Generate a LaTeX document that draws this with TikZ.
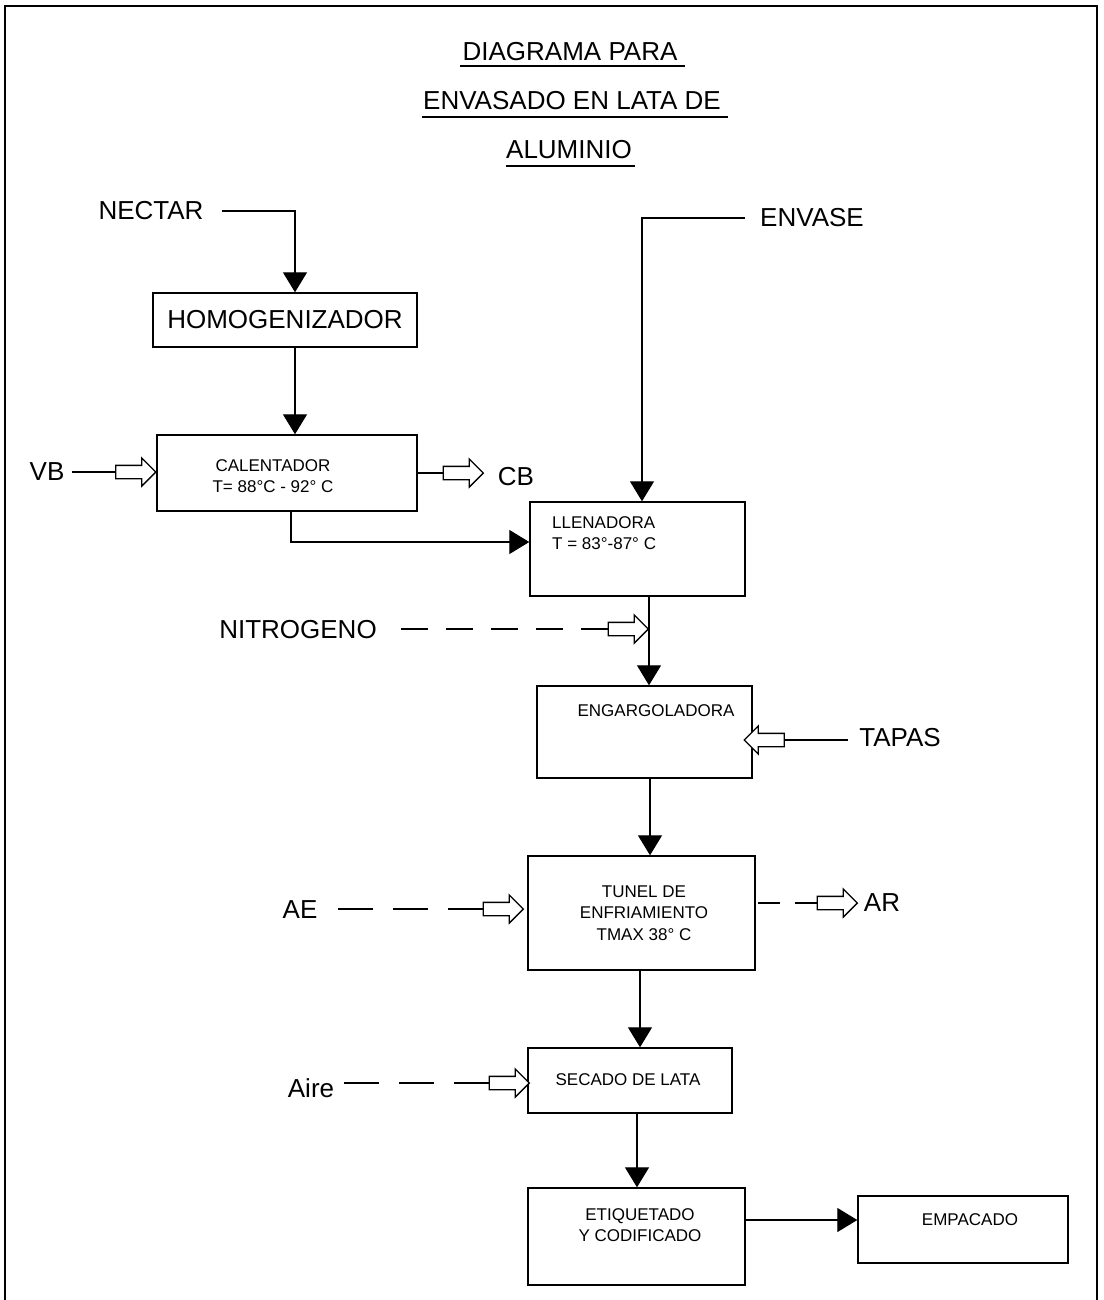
\documentclass[tikz,border=0pt]{standalone}
\usepackage{fontspec}
\setmainfont{Liberation Sans}
\usetikzlibrary{arrows.meta,shapes.arrows}
\begin{document}
\begin{tikzpicture}[x=1pt,y=-1pt,
  box/.style={draw, line width=1.4pt, inner sep=0pt},
  big/.style={inner sep=0pt, font=\fontsize{26}{30}\selectfont},
  small/.style={inner sep=0pt, font=\fontsize{17}{21.5}\selectfont},
  flow/.style={line width=1.3pt},
  tri/.style={flow, -{Triangle[width=24pt,length=20pt]}},
  dashline/.style={flow, dash pattern=on 35pt off 20pt},
  longdash/.style={flow, dash pattern=on 27pt off 18pt},
  shortdash/.style={flow, dash pattern=on 22pt off 15pt},
  blockarr/.style={draw, fill=white, line width=1.3pt, single arrow, inner sep=0pt,
    text height=6pt, text depth=6pt, text width=0pt,
    minimum height=40pt, single arrow head extend=7.5pt}]
\useasboundingbox (0,0) rectangle (1103,1300);

% page frame, open at the bottom
\draw[line width=1.5pt] (5,1300) -- (5,6) -- (1097,6) -- (1097,1300);

% title
\node[big] (t1) at (570,52) {DIAGRAMA PARA};
\node[big] (t2) at (572,101) {ENVASADO EN LATA DE};
\node[big] (t3) at (569,150) {ALUMINIO};
\draw[line width=1.4pt] ([shift={(-2pt,-14pt)}]t1.west) -- ([shift={(7pt,-14pt)}]t1.east);
\draw[line width=1.4pt] ([shift={(-1pt,-16pt)}]t2.west) -- ([shift={(7pt,-16pt)}]t2.east);
\draw[line width=1.4pt] ([shift={(0pt,-16pt)}]t3.west) -- ([shift={(3pt,-16pt)}]t3.east);

% process boxes
\node[box, big, minimum width=264pt, minimum height=54pt] (homog) at (285,320) {HOMOGENIZADOR};
\node[box, minimum width=260pt, minimum height=76pt] (calent) at (287,473) {};
\node[box, minimum width=215pt, minimum height=94pt] (llen) at (637.5,549) {};
\node[box, minimum width=215pt, minimum height=92pt] (engar) at (644.5,732) {};
\node[box, minimum width=227pt, minimum height=114pt] (tunel) at (641.5,913) {};
\node[box, minimum width=204pt, minimum height=65pt] (secado) at (630,1080.5) {};
\node[box, minimum width=217pt, minimum height=97pt] (etiq) at (636.5,1236.5) {};
\node[box, minimum width=210pt, minimum height=67pt] (empac) at (963,1229.5) {};

% box texts
\node[small, align=center] (calentt) at (273,476) {CALENTADOR\\T= 88°C - 92° C};
\node[small, align=left, anchor=west] (llent) at (552,533) {LLENADORA\\T = 83°-87° C};
\node[small] (engart) at (656,711) {ENGARGOLADORA};
\node[small, align=center] (tunelt) at (644,913) {TUNEL DE\\ENFRIAMIENTO\\TMAX 38° C};
\node[small] (secadot) at (628,1080) {SECADO DE LATA};
\node[small, align=center] (etiqt) at (640,1225) {ETIQUETADO\\Y CODIFICADO};
\node[small] (empact) at (970,1220) {EMPACADO};

% stream labels
\node[big] (nectar) at (151,211) {NECTAR};
\node[big] (envase) at (812,218) {ENVASE};
\node[big] (vb) at (47,472) {VB};
\node[big] (cb) at (516,477) {CB};
\node[big] (nitro) at (298,630) {NITROGENO};
\node[big] (tapas) at (900,738) {TAPAS};
\node[big] (ae) at (300,910) {AE};
\node[big] (ar) at (882,903) {AR};
\node[big, anchor=base] (aire) at (311,1097) {Aire};

% main product flow
\draw[tri] ([xshift=18pt]nectar.east) -| ([xshift=10pt]homog.north);
\draw[tri] ([xshift=10pt]homog.south) -- ([xshift=8pt]calent.north);
\draw[tri] ([xshift=4pt]calent.south) |- ([yshift=7pt]llen.west);
\draw[tri] ([xshift=-15pt]envase.west) -| ([xshift=4.5pt]llen.north);
\draw[tri] ([xshift=11.5pt]llen.south) -- ([xshift=4.5pt]engar.north);
\draw[tri] ([xshift=5.5pt]engar.south) -- ([xshift=8.5pt]tunel.north);
\draw[tri] ([xshift=-1.5pt]tunel.south) -- ([xshift=10pt]secado.north);
\draw[tri] ([xshift=7pt]secado.south) -- ([xshift=0.5pt]etiq.north);
\draw[tri] ([yshift=16.5pt]etiq.east) -- ([yshift=9.5pt]empac.west);

% utility streams with hollow block arrows (dashes laid out from the arrow back to the label)
\node[blockarr] (vbarr) at (132.5,472) {};
\draw[flow] ([xshift=7pt]vb.east |- vbarr.tail) -- (vbarr.tail);
\node[blockarr] (cbarr) at (460,473) {};
\draw[flow] (calent.east |- cbarr.tail) -- (cbarr.tail);
\node[blockarr] (n2arr) at (625,629) {};
\draw[longdash] (n2arr.tail) -- ([xshift=21pt]nitro.east |- n2arr.tail);
\node[blockarr, shape border rotate=180] (taparr) at (767.5,740) {};
\draw[flow] ([xshift=-11pt]tapas.west |- taparr.tail) -- (taparr.tail);
\node[blockarr] (aearr) at (500,909) {};
\draw[dashline] (aearr.tail) -- ([xshift=18pt]ae.east |- aearr.tail);
\node[blockarr] (ararr) at (834,903) {};
\draw[shortdash] (ararr.tail) -- (tunel.east |- ararr.tail);
\node[blockarr] (airearr) at (506,1083) {};
\draw[dashline] (airearr.tail) -- ([xshift=7pt]aire.east |- airearr.tail);
\end{tikzpicture}
\end{document}
